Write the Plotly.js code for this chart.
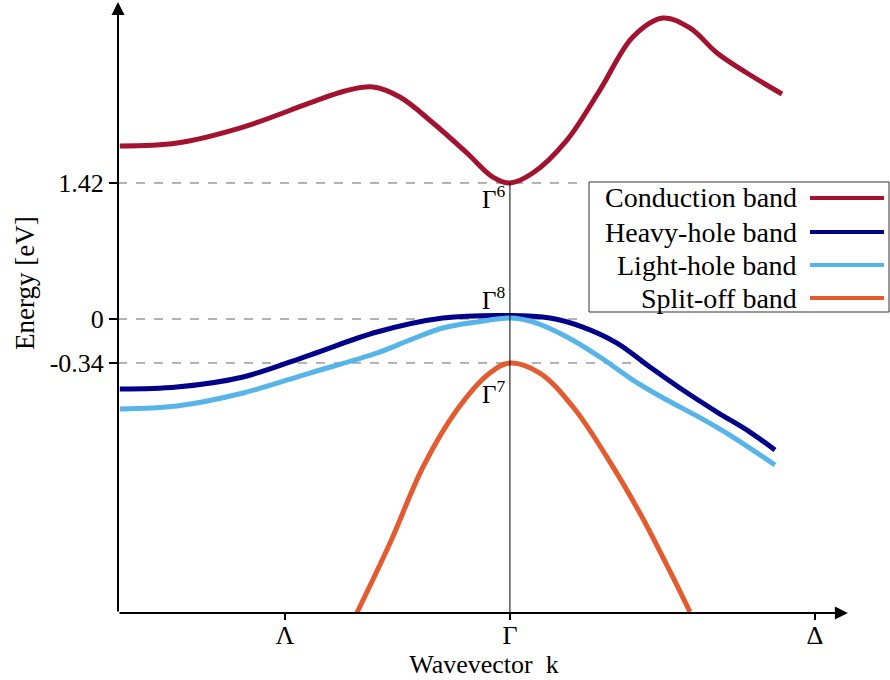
<!DOCTYPE html>
<html><head><meta charset="utf-8">
<script src="https://cdn.plot.ly/plotly-3.0.1.min.js"></script>
<style>html,body{margin:0;padding:0;background:#fff}#chart{width:890px;height:680px}</style>
</head><body><div id="chart"></div>
<script>
// Wavevector k (Γ = 0, Δ = 1) and energy (schematic eV) for each band
const kConduction = [-1.279,-1.092,-0.875,-0.656,-0.541,-0.449,-0.361,-0.252,-0.141,-0.056,0,0.075,0.187,0.295,0.403,0.502,0.590,0.679,0.777,0.892];
const eConduction = [1.806,1.837,2.004,2.255,2.380,2.422,2.317,2.046,1.733,1.482,1.42,1.524,1.868,2.390,2.944,3.142,3.038,2.777,2.568,2.349];

const kHeavy = [-1.279,-1.092,-0.875,-0.656,-0.436,-0.220,0,0.131,0.239,0.351,0.459,0.567,0.679,0.787,0.869];
const eHeavy = [-0.731,-0.710,-0.605,-0.376,-0.136,0.010,0.037,0.010,-0.084,-0.251,-0.501,-0.741,-0.971,-1.180,-1.367];

const kLight = [-1.279,-1.092,-0.875,-0.656,-0.436,-0.328,-0.220,-0.108,0,0.075,0.187,0.295,0.403,0.515,0.623,0.731,0.869];
const eLight = [-0.939,-0.908,-0.772,-0.564,-0.355,-0.219,-0.094,-0.031,0.010,-0.031,-0.188,-0.397,-0.637,-0.846,-1.030,-1.232,-1.524];

const kSplit = [-0.502,-0.393,-0.285,-0.174,-0.066,0,0.098,0.207,0.318,0.426,0.534,0.590];
const eSplit = [-3.069,-2.338,-1.545,-0.950,-0.564,-0.459,-0.564,-0.919,-1.441,-2.025,-2.693,-3.058];

const bandNames = ['Conduction band','Heavy-hole band','Light-hole band','Split-off band'];
const bandColors = ['#a3122f','#00008b','#56b4e9','#e35b2e'];

const kTickVals = [-0.738, 0, 1.0];
const kTickText = ['Λ','Γ','Δ'];
const eTickVals = [1.42, 0, -0.459];
const eTickText = ['1.42','0','-0.34'];

const pointLabels = ['Γ<sup>6</sup>','Γ<sup>8</sup>','Γ<sup>7</sup>'];
const pointLabelE = [1.273, 0.219, -0.762];

const X0 = -1.285, X1 = 1.115, Y0 = -3.069, Y1 = 3.33;
const FONT = '"Liberation Serif", "Times New Roman", serif';

const series = [[kConduction,eConduction],[kHeavy,eHeavy],[kLight,eLight],[kSplit,eSplit]];
const traces = series.map((s,i)=>({
  x: s[0], y: s[1], type:'scatter', mode:'lines', name: bandNames[i],
  line:{color: bandColors[i], width:5, shape:'spline', smoothing:1},
  hoverinfo:'skip', showlegend:false
}));

const shapes = [
  {type:'line', xref:'x', yref:'y', x0:X0, x1:0.246, y0:1.42, y1:1.42, line:{color:'#666', width:1, dash:'dash'}, layer:'below'},
  {type:'line', xref:'x', yref:'y', x0:X0, x1:0.246, y0:0, y1:0, line:{color:'#666', width:1, dash:'dash'}, layer:'below'},
  {type:'line', xref:'x', yref:'y', x0:X0, x1:0.436, y0:-0.459, y1:-0.459, line:{color:'#666', width:1, dash:'dash'}, layer:'below'},
  {type:'line', xref:'x', yref:'y', x0:0, x1:0, y0:1.42, y1:Y0, line:{color:'#000', width:1}, layer:'above'}
];

// custom legend (text left, swatch right)
const px2x = p => (p-118)/732, py2y = p => (613-p)/613;
shapes.push({type:'rect', xref:'paper', yref:'paper', x0:px2x(589), x1:px2x(889), y0:py2y(312), y1:py2y(182),
  line:{color:'#333', width:1}, fillcolor:'#fff', layer:'above'});
const legendRowY = [198, 232, 265, 298];
const annotations = [];
bandNames.forEach((n,i)=>{
  shapes.push({type:'line', xref:'paper', yref:'paper', x0:px2x(810), x1:px2x(884), y0:py2y(legendRowY[i]), y1:py2y(legendRowY[i]),
    line:{color:bandColors[i], width:4}, layer:'above'});
  annotations.push({xref:'paper', yref:'paper', x:px2x(799), y:py2y(legendRowY[i]), xanchor:'right', yanchor:'middle',
    text:n, showarrow:false, font:{family:FONT, size:28, color:'#000'}});
});

pointLabels.forEach((t,i)=>{
  annotations.push({xref:'x', yref:'y', x:0, y:pointLabelE[i], xanchor:'right', yanchor:'middle', xshift:-3,
    text:t, showarrow:false, font:{family:FONT, size:25, color:'#000'}});
});

// y-axis title
annotations.push({xref:'paper', yref:'paper', x:px2x(25), y:py2y(283), xanchor:'center', yanchor:'middle',
  textangle:-90, text:'Energy [eV]', showarrow:false, font:{family:FONT, size:27, color:'#000'}});

// axis arrows
annotations.push({xref:'x', yref:'y', axref:'x', ayref:'y', x:1.108, y:Y0, ax:X0, ay:Y0, text:'', showarrow:true,
  arrowhead:2, arrowsize:1.3, arrowwidth:2, arrowcolor:'#000', standoff:0, startstandoff:0});
annotations.push({xref:'x', yref:'y', axref:'x', ayref:'y', x:X0, y:3.31, ax:X0, ay:Y0, text:'', showarrow:true,
  arrowhead:2, arrowsize:1.3, arrowwidth:2, arrowcolor:'#000', standoff:0, startstandoff:0});

const layout = {
  width:890, height:680,
  margin:{l:118, r:40, t:0, b:67},
  paper_bgcolor:'#fff', plot_bgcolor:'#fff',
  font:{family:FONT, color:'#000'},
  showlegend:false,
  xaxis:{range:[X0,X1], showgrid:false, zeroline:false, showline:false,
    tickvals:kTickVals, ticktext:kTickText, ticks:'outside', ticklen:6, tickwidth:2, tickcolor:'#000',
    ticklabelstandoff:-7,
    tickfont:{family:FONT, size:26, color:'#000'},
    title:{text:'Wavevector  k', font:{family:FONT, size:26, color:'#000'}, standoff:2}, fixedrange:true},
  yaxis:{range:[Y0,Y1], showgrid:false, zeroline:false, showline:false,
    tickvals:eTickVals, ticktext:eTickText, ticks:'outside', ticklen:8, tickwidth:1.5, tickcolor:'#000',
    tickfont:{family:FONT, size:26, color:'#000'}, fixedrange:true},
  shapes:shapes, annotations:annotations
};
Plotly.newPlot('chart', traces, layout, {displayModeBar:false, staticPlot:true});
</script></body></html>
